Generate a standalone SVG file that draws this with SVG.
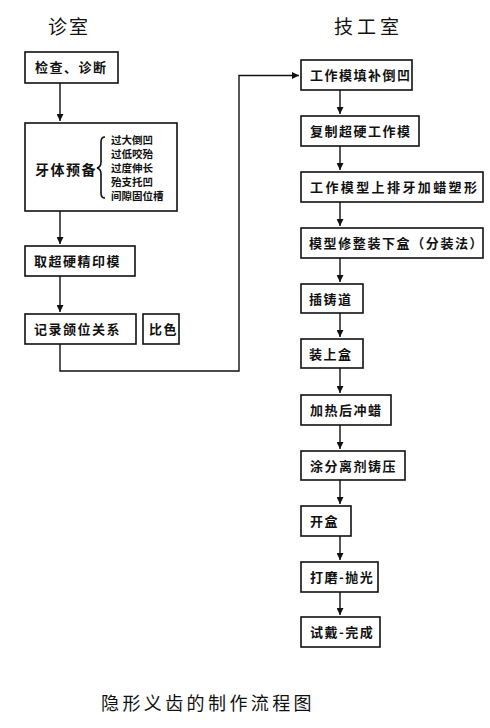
<svg xmlns="http://www.w3.org/2000/svg" width="490" height="728" viewBox="0 0 490 728">
<defs>
<marker id="ah" viewBox="0 0 10 10" refX="10" refY="5" markerWidth="7" markerHeight="7" markerUnits="userSpaceOnUse" orient="auto">
<path d="M0,0 L10,5 L0,10 z" fill="#111"/>
</marker>
<style>
.box{fill:#fff;stroke:#111;stroke-width:1.6}
.t{font-family:"Noto Sans CJK SC","Noto Sans CJK JP",sans-serif;font-size:13px;font-weight:bold;fill:#111;letter-spacing:1.5px}
.s{font-family:"Noto Sans CJK SC","Noto Sans CJK JP",sans-serif;font-size:10.5px;font-weight:bold;fill:#111}
.h{font-family:"Noto Sans CJK SC","Noto Sans CJK JP",sans-serif;font-size:19px;fill:#111;letter-spacing:2px}
.c{fill:none;stroke:#111;stroke-width:1.4}
</style>
</defs>
<rect width="490" height="728" fill="#fff"/>
<text class="h" x="48" y="34">诊室</text>
<text class="h" x="334" y="34" style="letter-spacing:4px">技工室</text>
<g id="n1"><rect class="box" x="25" y="52" width="93" height="31"/><text class="t" x="35" y="72">检查、诊断</text></g>
<g id="n2"><rect class="box" x="25" y="123" width="152" height="88"/><text class="t" x="35" y="175" style="font-size:14px">牙体预备</text>
<path d="M105,137 q-4,0 -4,5 v20 q0,5 -4,6 q4,1 4,6 v19 q0,5 4,5" fill="none" stroke="#111" stroke-width="1.6"/>
<text class="s" x="111" y="144">过大倒凹</text><text class="s" x="111" y="158">过低咬殆</text><text class="s" x="111" y="172">过度伸长</text><text class="s" x="111" y="186">殆支托凹</text><text class="s" x="111" y="200">间隙固位槽</text></g>
<g id="n3"><rect class="box" x="25" y="246" width="110" height="30"/><text class="t" x="34" y="266">取超硬精印模</text></g>
<g id="n4"><rect class="box" x="25" y="314" width="111" height="30"/><text class="t" x="34" y="334">记录颌位关系</text></g>
<g id="n5"><rect class="box" x="143" y="314" width="36" height="30"/><text class="t" x="149" y="334">比色</text></g>
<g id="r1"><rect class="box" x="301" y="60" width="111" height="30"/><text class="t" x="310" y="80">工作模填补倒凹</text></g>
<g id="r2"><rect class="box" x="301" y="116" width="118" height="30"/><text class="t" x="310" y="136">复制超硬工作模</text></g>
<g id="r3"><rect class="box" x="301" y="172" width="182" height="30"/><text class="t" x="310" y="192" style="letter-spacing:2.4px">工作模型上排牙加蜡塑形</text></g>
<g id="r4"><rect class="box" x="301" y="228" width="182" height="30"/><text class="t" x="309" y="248" style="letter-spacing:1.6px">模型修整装下盒（分装法）</text></g>
<g id="r5"><rect class="box" x="301" y="284" width="62" height="29"/><text class="t" x="309" y="304">插铸道</text></g>
<g id="r6"><rect class="box" x="301" y="339" width="62" height="29"/><text class="t" x="309" y="359">装上盒</text></g>
<g id="r7"><rect class="box" x="301" y="395" width="90" height="30"/><text class="t" x="310" y="415">加热后冲蜡</text></g>
<g id="r8"><rect class="box" x="301" y="451" width="104" height="29"/><text class="t" x="310" y="471">涂分离剂铸压</text></g>
<g id="r9"><rect class="box" x="301" y="506" width="50" height="30"/><text class="t" x="310" y="526">开盒</text></g>
<g id="r10"><rect class="box" x="301" y="562" width="77" height="30"/><text class="t" x="310" y="582">打磨-抛光</text></g>
<g id="r11"><rect class="box" x="301" y="617" width="79" height="30"/><text class="t" x="310" y="637">试戴-完成</text></g>
<g id="connectors">
<path class="c" d="M60,83 V121" marker-end="url(#ah)"/>
<path class="c" d="M60,211 V244" marker-end="url(#ah)"/>
<path class="c" d="M60,276 V312" marker-end="url(#ah)"/>
<path class="c" d="M60,344 V371 H239 V75.5 H299" marker-end="url(#ah)"/>
<path class="c" d="M340,90 V114" marker-end="url(#ah)"/>
<path class="c" d="M340,146 V170" marker-end="url(#ah)"/>
<path class="c" d="M340,202 V226" marker-end="url(#ah)"/>
<path class="c" d="M340,258 V282" marker-end="url(#ah)"/>
<path class="c" d="M340,313 V337" marker-end="url(#ah)"/>
<path class="c" d="M340,368 V393" marker-end="url(#ah)"/>
<path class="c" d="M340,425 V449" marker-end="url(#ah)"/>
<path class="c" d="M340,480 V504" marker-end="url(#ah)"/>
<path class="c" d="M340,536 V560" marker-end="url(#ah)"/>
<path class="c" d="M340,592 V615" marker-end="url(#ah)"/>
</g>
<text class="h" x="101" y="710" style="font-size:18px;letter-spacing:3.4px">隐形义齿的制作流程图</text>
</svg>
